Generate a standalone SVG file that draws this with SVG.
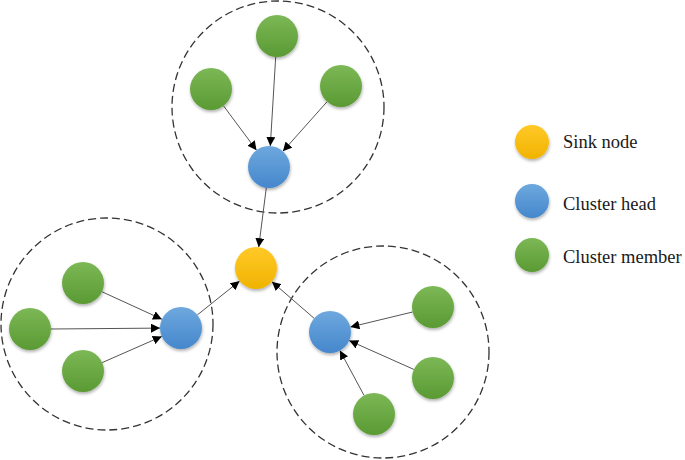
<svg xmlns="http://www.w3.org/2000/svg" width="685" height="460" viewBox="0 0 685 460">
<style>
.cluster{fill:none;stroke:#333;stroke-width:1.3;stroke-dasharray:8 4}
.edge{stroke:#555;stroke-width:1;fill:none;marker-end:url(#ah)}
.g{fill:url(#gG);filter:url(#sh)}
.b{fill:url(#gB);filter:url(#sh)}
.y{fill:url(#gY);filter:url(#sh)}
.lbl{font-family:"Liberation Serif","Times New Roman",serif;font-size:18.5px;fill:#1a1a1a}
</style>
<defs>
<linearGradient id="gG" x1="0" y1="0" x2="0" y2="1"><stop offset="0" stop-color="#7cb856"/><stop offset="1" stop-color="#5a9a33"/></linearGradient>
<linearGradient id="gB" x1="0" y1="0" x2="0" y2="1"><stop offset="0" stop-color="#6ea8de"/><stop offset="1" stop-color="#4587cc"/></linearGradient>
<linearGradient id="gY" x1="0" y1="0" x2="0" y2="1"><stop offset="0" stop-color="#ffc928"/><stop offset="1" stop-color="#f0b300"/></linearGradient>
<filter id="sh" x="-30%" y="-30%" width="160%" height="170%"><feDropShadow dx="0.5" dy="2" stdDeviation="1.5" flood-color="#000" flood-opacity="0.3"/></filter>
<marker id="ah" viewBox="0 0 10 10" refX="10" refY="5" markerWidth="9" markerHeight="9" markerUnits="userSpaceOnUse" orient="auto"><path d="M0,0 L10,5 L0,10 z" fill="#000"/></marker>
</defs>
<g id="clusters">
<circle class="cluster" cx="278" cy="107" r="106"/>
<circle class="cluster" cx="107" cy="324" r="106"/>
<circle class="cluster" cx="383" cy="352" r="106"/>
</g>
<g id="connectors">
<line class="edge" x1="275.7" y1="57" x2="270.3" y2="146"/>
<line class="edge" x1="223.5" y1="105.8" x2="256.5" y2="150.2"/>
<line class="edge" x1="327.1" y1="101.7" x2="282.9" y2="151.3"/>
<line class="edge" x1="266.3" y1="187.8" x2="258.7" y2="247.2"/>
<line class="edge" x1="102.1" y1="291.8" x2="161.9" y2="319.2"/>
<line class="edge" x1="51" y1="329" x2="160" y2="328.1"/>
<line class="edge" x1="102.2" y1="362.6" x2="161.8" y2="336.4"/>
<line class="edge" x1="197.4" y1="314.9" x2="239.6" y2="281.1"/>
<line class="edge" x1="412.6" y1="312" x2="350.4" y2="327"/>
<line class="edge" x1="413.8" y1="369.4" x2="349.2" y2="340.6"/>
<line class="edge" x1="364.1" y1="395.5" x2="339.9" y2="350.5"/>
<line class="edge" x1="314.1" y1="318.3" x2="271.9" y2="281.7"/>
</g>
<g id="top-m1"><circle class="g" cx="277" cy="36" r="21"/></g>
<g id="top-m2"><circle class="g" cx="211" cy="89" r="21"/></g>
<g id="top-m3"><circle class="g" cx="341" cy="86" r="21"/></g>
<g id="top-head"><circle class="b" cx="269" cy="167" r="21"/></g>
<g id="sink"><circle class="y" cx="256" cy="268" r="21"/></g>
<g id="left-m1"><circle class="g" cx="83" cy="283" r="21"/></g>
<g id="left-m2"><circle class="g" cx="30" cy="329" r="21"/></g>
<g id="left-m3"><circle class="g" cx="83" cy="371" r="21"/></g>
<g id="left-head"><circle class="b" cx="181" cy="328" r="21"/></g>
<g id="right-m1"><circle class="g" cx="433" cy="307" r="21"/></g>
<g id="right-m2"><circle class="g" cx="433" cy="378" r="21"/></g>
<g id="right-m3"><circle class="g" cx="374" cy="414" r="21"/></g>
<g id="right-head"><circle class="b" cx="330" cy="332" r="21"/></g>
<g id="legend-sink"><circle class="y" cx="532" cy="142" r="17"/><text class="lbl" x="563" y="148">Sink node</text></g>
<g id="legend-head"><circle class="b" cx="532" cy="201" r="17"/><text class="lbl" x="563" y="210">Cluster head</text></g>
<g id="legend-member"><circle class="g" cx="532" cy="255" r="17"/><text class="lbl" x="563" y="263">Cluster member</text></g>
</svg>
